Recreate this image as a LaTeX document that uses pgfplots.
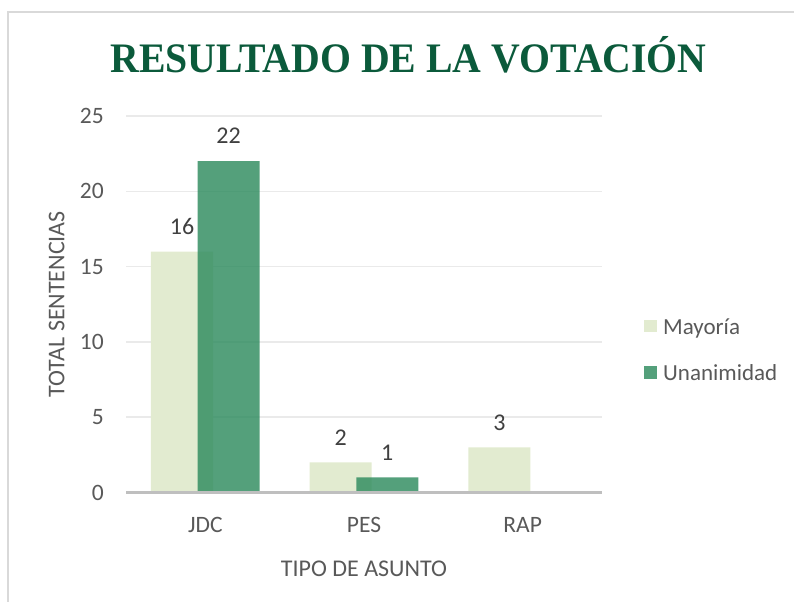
\documentclass[border=0pt]{standalone}
\usepackage{graphicx}
\usepackage{fontspec}
\setmainfont{Carlito}
\newfontfamily\titlefont{Liberation Serif}
\usepackage{pgfplots}
\pgfplotsset{compat=1.18}
\definecolor{titlegreen}{HTML}{0B5A3B}
\definecolor{mayoria}{HTML}{E2EBD0}
\definecolor{unanim}{HTML}{2E8B5E}
\definecolor{txtgray}{HTML}{595959}
\definecolor{lblgray}{HTML}{404040}
\definecolor{gridgray}{HTML}{EAEAEA}
\definecolor{axgray}{HTML}{BFBFBF}
\definecolor{framegray}{HTML}{D9D9D9}
\pgfplotsset{sqlegend/.style={legend image code/.code={\fill[##1] (0bp,-5.5bp) rectangle (12.5bp,7bp);}}}
\begin{document}
\begin{tikzpicture}
\path[use as bounding box] (0,0) rectangle (794bp,602bp);
\draw[framegray, line width=2bp] (7.5bp,0) -- (7.5bp,590bp) -- (794bp,590bp);
\node[anchor=base, text=titlegreen, font=\titlefont\bfseries\fontsize{42bp}{48bp}\selectfont, inner sep=0pt] at (408.5bp,529.3bp) {\scalebox{0.947}[1]{RESULTADO DE LA VOTACIÓN}};
\begin{axis}[
  at={(126bp,109.5bp)}, anchor=south west,
  scale only axis, width=476bp, height=376.5bp,
  xmin=-0.5, xmax=2.5, ymin=0, ymax=25,
  xtick={0,1,2}, xticklabels={JDC,PES,RAP},
  ytick={0,5,10,15,20,25},
  /pgf/number format/assume math mode=true,
  tick style={draw=none}, major tick length=0pt,
  axis line style={draw=none},
  ymajorgrids, grid style={gridgray, line width=1.5bp},
  ticklabel style={font=\fontsize{23.5bp}{27bp}\selectfont, text=txtgray, inner sep=0pt},
  yticklabel style={anchor=east, xshift=-22bp},
  xticklabel style={anchor=north, yshift=-25bp},
  xlabel={TIPO DE ASUNTO},
  ylabel={TOTAL SENTENCIAS},
  label style={font=\fontsize{24bp}{28bp}\selectfont, text=txtgray, inner sep=0pt},
  xlabel style={at={(axis description cs:0.5,-0.1825)}, anchor=north},
  ylabel style={at={(axis description cs:-0.1456,0.5)}, anchor=center},
  legend style={at={(axis description cs:1.0882,0.378)}, anchor=west, draw=none, fill=none, inner sep=0pt, row sep=29bp, font=\fontsize{23bp}{27bp}\selectfont, text=txtgray, nodes={inner sep=0pt}},
  legend cell align=left,
  clip=false,
]
\addplot[ybar, bar width=0.391, bar shift=-0.147, fill=mayoria, draw=none, sqlegend,
  nodes near coords, every node near coord/.append style={anchor=center, xshift=-23.3bp, yshift=25bp, font=\fontsize{24bp}{28bp}\selectfont, text=lblgray, inner sep=0pt}]
  coordinates {(0,16) (1,2) (2,3)};
\addlegendentry{\hspace{6.5bp}Mayoría}
\addplot[ybar, bar width=0.391, bar shift=0.147, fill=unanim, fill opacity=0.82, draw=none, sqlegend,
  nodes near coords, every node near coord/.append style={anchor=center, xshift=23.3bp, yshift=25bp, font=\fontsize{24bp}{28bp}\selectfont, text=lblgray, inner sep=0pt, text opacity=1}]
  coordinates {(0,22) (1,1)};
\addlegendentry{\hspace{6.5bp}Unanimidad}
\draw[axgray, line width=3bp] (axis cs:-0.5,0) -- (axis cs:2.5,0);
\end{axis}
\end{tikzpicture}
\end{document}
